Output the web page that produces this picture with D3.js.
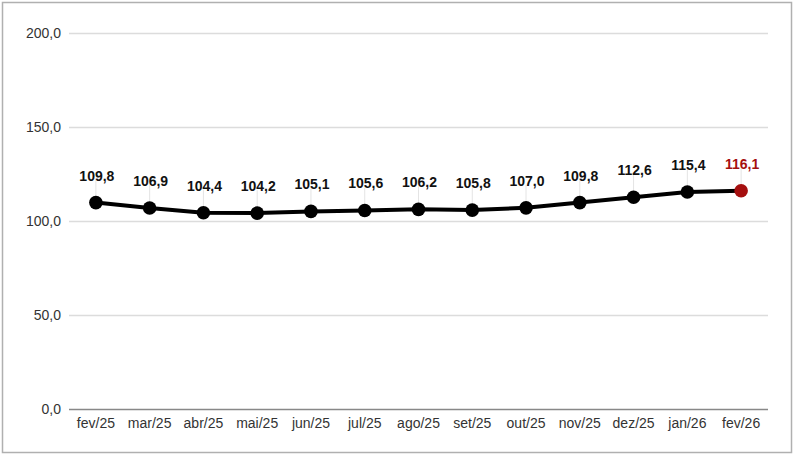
<!DOCTYPE html>
<html><head><meta charset="utf-8">
<script src="https://cdn.jsdelivr.net/npm/d3@7"></script>
<style>body{margin:0;background:#fff}svg{display:block}</style>
</head><body>
<script>
const categories = ["fev/25","mar/25","abr/25","mai/25","jun/25","jul/25","ago/25","set/25","out/25","nov/25","dez/25","jan/26","fev/26"];
const values = [109.8,106.9,104.4,104.2,105.1,105.6,106.2,105.8,107.0,109.8,112.6,115.4,116.1];
const yTicks = [0,50,100,150,200];

const W = 794, H = 457;
const svg = d3.select("body").append("svg").attr("width", W).attr("height", H);
svg.append("rect").attr("x",2.5).attr("y",2.5).attr("width",789).attr("height",450)
  .attr("fill","#fff").attr("stroke","#b0b0b0").attr("stroke-width",1.5);

const x = d3.scaleBand().domain(categories).range([69, 768]);
const y = d3.scaleLinear().domain([0,200]).range([409, 33]);
const fmt = v => d3.format(".1f")(v).replace(".", ",");
const font = "Liberation Sans, Arial, sans-serif";

// gridlines
svg.append("g").selectAll("line").data(yTicks).join("line")
  .attr("x1",69).attr("x2",768)
  .attr("y1",d=>y(d)+0.5).attr("y2",d=>y(d)+0.5)
  .attr("stroke",d=>d===0?"#888":"#dcdcdc").attr("stroke-width",d=>d===0?1.5:1.5);

// y axis labels
const yAxis = d3.axisLeft(y).tickValues(yTicks).tickFormat(fmt).tickSize(0).tickPadding(8);
const ga = svg.append("g").attr("transform","translate(69,0)").call(yAxis);
ga.select(".domain").remove();
ga.selectAll("text").attr("font-family",font).attr("font-size",14).attr("fill","#333");

// x axis labels
const xAxis = d3.axisBottom(x).tickSize(0).tickPadding(9);
const gx = svg.append("g").attr("transform","translate(0,409)").call(xAxis);
gx.select(".domain").remove();
gx.selectAll("text").attr("font-family",font).attr("font-size",14).attr("fill","#333");

const cx = d => x(d) + x.bandwidth()/2;

// leader lines
svg.append("g").selectAll("line").data(values).join("line")
  .attr("x1",(d,i)=>cx(categories[i])).attr("x2",(d,i)=>cx(categories[i]))
  .attr("y1",d=>y(d)-23).attr("y2",d=>y(d))
  .attr("stroke","#e4e4e4").attr("stroke-width",1);

// line
svg.append("path").datum(values)
  .attr("d", d3.line().x((d,i)=>cx(categories[i])).y(d=>y(d)))
  .attr("fill","none").attr("stroke","#000").attr("stroke-width",4).attr("stroke-linejoin","round");

const last = values.length-1;
svg.append("g").selectAll("circle").data(values).join("circle")
  .attr("cx",(d,i)=>cx(categories[i])).attr("cy",d=>y(d)).attr("r",6.8)
  .attr("fill",(d,i)=>i===last?"#a50f0f":"#000");

svg.append("g").selectAll("text").data(values).join("text")
  .attr("x",(d,i)=>cx(categories[i])+1).attr("y",d=>y(d)-22)
  .attr("text-anchor","middle").attr("font-family",font).attr("font-size",14).attr("font-weight","bold")
  .attr("fill",(d,i)=>i===last?"#a50f0f":"#111")
  .text(fmt);
</script>
</body></html>
